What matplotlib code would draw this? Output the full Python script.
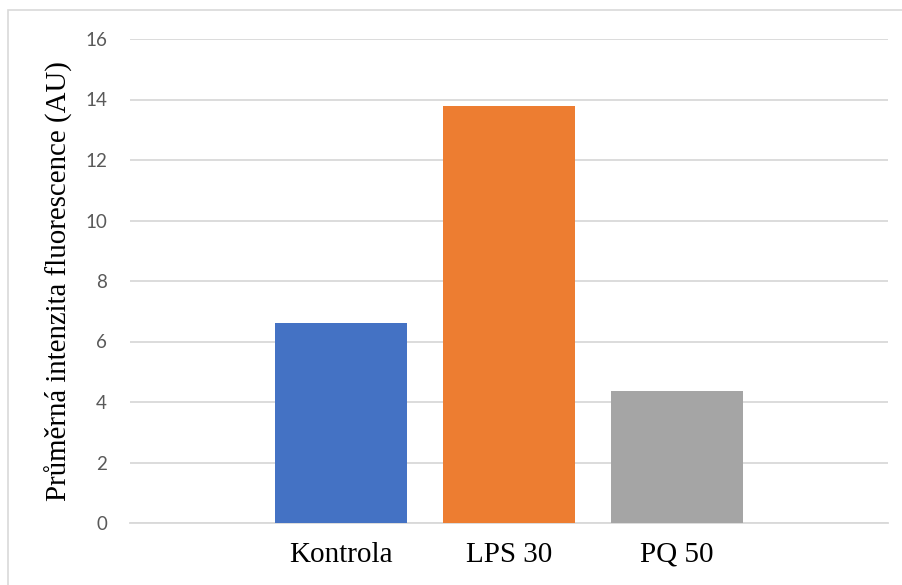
import matplotlib
matplotlib.use("Agg")
import matplotlib.pyplot as plt
from matplotlib.patches import Rectangle

categories = ["Kontrola", "LPS 30", "PQ 50"]
values = [6.62, 13.79, 4.36]
colors = ["#4472C4", "#ED7D31", "#A5A5A5"]
yticks = [0, 2, 4, 6, 8, 10, 12, 14, 16]
ylabel = "Průměrná intenzita fluorescence (AU)"

W, H = 903, 585
fig = plt.figure(figsize=(W / 100, H / 100), dpi=100)
fig.patch.set_facecolor("white")

# outer chart frame (only top/left visible)
fig.patches.append(Rectangle((8 / W, -0.1), 1.2, 1 - 10 / H + 0.1, transform=fig.transFigure,
                             fill=False, edgecolor="#D9D9D9", linewidth=1.2))

left, right, top, bottom = 130, 888, 39, 523
ax = fig.add_axes([left / W, 1 - bottom / H, (right - left) / W, (bottom - top) / H])

x = list(range(len(categories)))
ax.bar(x, values, width=0.79, color=colors, zorder=3)
ax.set_xlim(-1.256, 3.256)
ax.set_ylim(0, 16)
ax.set_yticks(yticks)
ax.set_yticklabels([str(t) for t in yticks], family="Lato", fontsize=13.5, color="#595959")
ax.set_xticks(x)
ax.set_xticklabels(categories, family="Liberation Serif", fontsize=21, color="black")
ax.tick_params(axis="y", length=0, pad=16.5)
ax.tick_params(axis="x", length=0, pad=13.5)
ax.grid(axis="y", color="#D9D9D9", linewidth=1.3, zorder=0)
for s in ["top", "right", "left"]:
    ax.spines[s].set_visible(False)
ax.spines["bottom"].set_color("#D9D9D9")
ax.spines["bottom"].set_linewidth(1.3)
ax.set_axisbelow(True)

fig.text(59 / W, 1 - 281 / H, ylabel, rotation=90, ha="center", va="center",
         family="Liberation Serif", fontsize=20.8, color="black")

fig.savefig("out.png", dpi=100)
